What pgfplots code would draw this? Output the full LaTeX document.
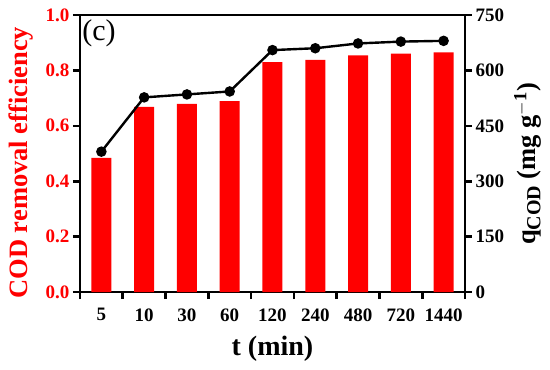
\documentclass[border=0pt]{standalone}
\usepackage{fontspec}
\setmainfont{Liberation Serif}
\usepackage{pgfplots}
\pgfplotsset{compat=1.18}
\definecolor{barred}{RGB}{255,0,0}
\begin{document}
\begin{tikzpicture}[x=1pt,y=1pt]
\path[use as bounding box] (-80,-78) rectangle (470,292);
\begin{axis}[
  scale only axis, width=385pt, height=277pt,
  at={(0,0)}, anchor=south west,
  xmin=-0.5, xmax=8.5, ymin=0, ymax=1,
  axis line style={line width=2.6pt},
  tick align=outside,
  xtick={0,...,8},
  xticklabels={5,10,30,60,120,240,480,720,1440},
  major x tick style={draw=none},
  minor xtick={-0.5,0.5,...,8.5},
  minor tick length=7pt,
  minor x tick style={line width=2.6pt, black},
  xtick pos=bottom,
  ytick={0,0.2,...,1.0},
  ytick pos=left,
  major tick length=7pt,
  major y tick style={line width=2.6pt, black},
  yticklabel style={/pgf/number format/fixed, /pgf/number format/fixed zerofill, /pgf/number format/precision=1, text=barred},
  /pgf/number format/assume math mode=true,
  ticklabel style={font=\fontsize{19}{20}\selectfont\bfseries},
  xticklabel style={yshift=-6pt},
  xlabel={t (min)},
  xlabel style={font=\fontsize{28}{30}\selectfont\bfseries, at={(axis description cs:0.5,-0.205)}, anchor=center},
  ylabel={COD removal efficiency},
  ylabel style={font=\fontsize{26.5}{28}\selectfont\bfseries, text=barred, at={(axis description cs:-0.152,0.467)}, anchor=center},
  clip=false,
]
\addplot[ybar, bar width=20pt, fill=barred, draw=none] coordinates {
(0,0.484) (1,0.668) (2,0.679) (3,0.689) (4,0.830) (5,0.838) (6,0.854) (7,0.861) (8,0.865)};
\node[anchor=north west, font=\fontsize{30}{32}\selectfont, inner sep=0pt] at (axis cs:-0.45,0.985) {(c)};
\end{axis}
\begin{axis}[
  scale only axis, width=385pt, height=277pt,
  at={(0,0)}, anchor=south west,
  xmin=-0.5, xmax=8.5, ymin=0, ymax=750,
  axis x line=none,
  axis y line*=right,
  axis line style={line width=2.6pt},
  tick align=outside,
  ytick={0,150,...,750},
  major tick length=7pt,
  major y tick style={line width=2.6pt, black},
  /pgf/number format/assume math mode=true,
  ticklabel style={font=\fontsize{19}{20}\selectfont\bfseries},
  ylabel={q{\fontsize{20}{22}\selectfont\raisebox{-0.25em}{COD}} (mg g\textsuperscript{$-$1})},
  ylabel style={font=\fontsize{26.5}{28}\selectfont\bfseries, at={(axis description cs:1.163,0.462)}, anchor=center},
  clip=false,
]
\addplot[black, line width=2.4pt, mark=*, mark size=4pt] coordinates {
(0,380) (1,527) (2,535) (3,543) (4,655) (5,660) (6,673) (7,678) (8,680)};
\end{axis}
\end{tikzpicture}
\end{document}
